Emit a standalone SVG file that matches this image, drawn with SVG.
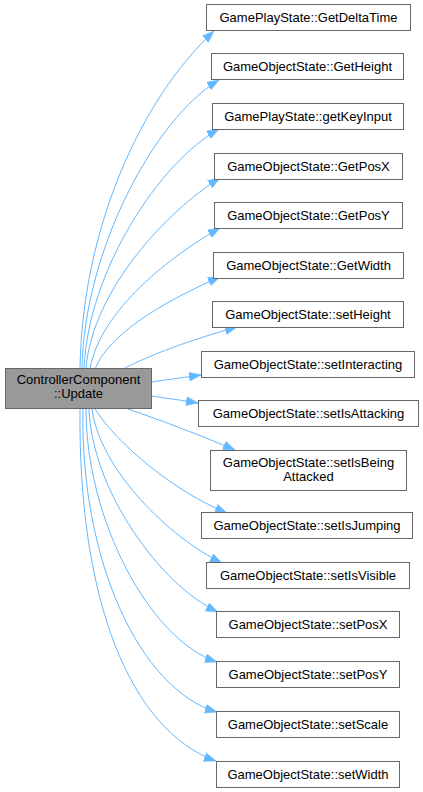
<svg xmlns="http://www.w3.org/2000/svg" width="423" height="792" viewBox="0 0 423 792">
<style>
.n rect{fill:#fff;stroke:#666;stroke-width:1}
.src rect{fill:#999;stroke:#666;stroke-width:1}
text{font-family:"Liberation Sans",Arial,sans-serif;font-size:13px;fill:#000;text-anchor:middle}
.e path{fill:none;stroke:#63b8ff;stroke-width:1;marker-end:url(#ah)}
</style>
<defs>
<marker id="ah" markerUnits="userSpaceOnUse" markerWidth="12" markerHeight="10" viewBox="0 0 12 10" refX="12" refY="5" orient="auto">
<path d="M0,0.5 L12,5 L0,9.5 z" fill="#63b8ff" stroke="#63b8ff" stroke-width="0.5"/>
</marker>
</defs>
<rect width="423" height="792" fill="#fff"/>
<g id="edges" class="e">
<path d="M80,369 C82,230 140,100 214,31"/>
<path d="M82,369 C84,250 155,118 219,80"/>
<path d="M84,369 C88,270 160,162 219,129"/>
<path d="M86,369 C92,290 168,210 220,178"/>
<path d="M90,369 C100,310 172,255 220,228"/>
<path d="M95,369 C110,330 178,295 220,277"/>
<path d="M123,369 C150,355 190,340 237,327"/>
<path d="M151,382 C165,380 180,378 201,375"/>
<path d="M151,396 C165,398 180,400 198,403"/>
<path d="M128,409 C160,420 200,435 235,450"/>
<path d="M95,409 C118,445 175,492 227,513"/>
<path d="M92,409 C100,470 170,538 222,563"/>
<path d="M89,409 C92,490 160,585 218,612"/>
<path d="M86,409 C86,520 150,640 217,662"/>
<path d="M83,409 C80,560 140,690 217,712"/>
<path d="M80,409 C78,600 130,730 216,761"/>
</g>
<g id="src" class="src"><rect x="5.5" y="368.5" width="146" height="40"/><text x="78.5" y="384">ControllerComponent</text><text x="78.5" y="398">::Update</text></g>
<g id="n1" class="n"><rect x="206.5" y="4.5" width="204" height="26"/><text x="308.5" y="21.5">GamePlayState::GetDeltaTime</text></g>
<g id="n2" class="n"><rect x="211.5" y="53.5" width="192" height="26"/><text x="307.5" y="70.5">GameObjectState::GetHeight</text></g>
<g id="n3" class="n"><rect x="212.5" y="103.5" width="191" height="26"/><text x="308" y="120.5">GamePlayState::getKeyInput</text></g>
<g id="n4" class="n"><rect x="214.5" y="153.5" width="188" height="26"/><text x="308.5" y="170.5">GameObjectState::GetPosX</text></g>
<g id="n5" class="n"><rect x="214.5" y="202.5" width="188" height="26"/><text x="308.5" y="219.5">GameObjectState::GetPosY</text></g>
<g id="n6" class="n"><rect x="213.5" y="252.5" width="190" height="26"/><text x="308.5" y="269.5">GameObjectState::GetWidth</text></g>
<g id="n7" class="n"><rect x="212.5" y="301.5" width="191" height="26"/><text x="308" y="318.5">GameObjectState::setHeight</text></g>
<g id="n8" class="n"><rect x="201.5" y="351.5" width="213" height="26"/><text x="308" y="368.5">GameObjectState::setInteracting</text></g>
<g id="n9" class="n"><rect x="198.5" y="400.5" width="220" height="26"/><text x="308.5" y="417.5">GameObjectState::setIsAttacking</text></g>
<g id="n10" class="n"><rect x="210.5" y="450.5" width="196" height="40"/><text x="308.5" y="466.5">GameObjectState::setIsBeing</text><text x="308.5" y="480.5">Attacked</text></g>
<g id="n11" class="n"><rect x="201.5" y="512.5" width="211" height="26"/><text x="307" y="529.5">GameObjectState::setIsJumping</text></g>
<g id="n12" class="n"><rect x="206.5" y="562.5" width="203" height="26"/><text x="308" y="579.5">GameObjectState::setIsVisible</text></g>
<g id="n13" class="n"><rect x="216.5" y="611.5" width="183" height="26"/><text x="308" y="628.5">GameObjectState::setPosX</text></g>
<g id="n14" class="n"><rect x="216.5" y="661.5" width="183" height="26"/><text x="308" y="678.5">GameObjectState::setPosY</text></g>
<g id="n15" class="n"><rect x="216.5" y="711.5" width="183" height="26"/><text x="308" y="728.5">GameObjectState::setScale</text></g>
<g id="n16" class="n"><rect x="216.5" y="761.5" width="183" height="26"/><text x="308" y="778.5">GameObjectState::setWidth</text></g>
</svg>
